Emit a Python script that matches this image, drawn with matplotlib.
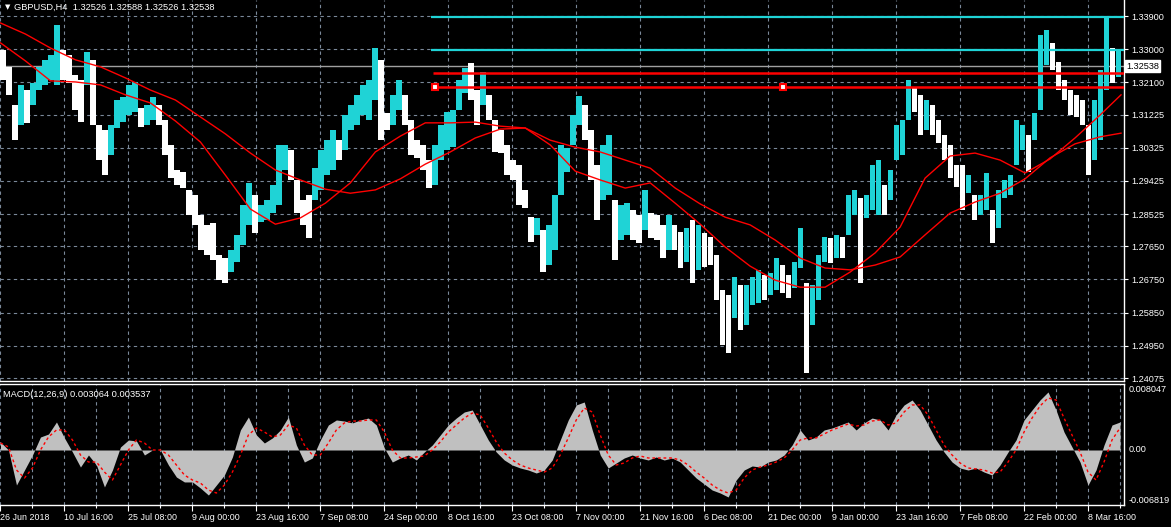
import numpy as np
import matplotlib.pyplot as plt
import matplotlib.transforms as mtransforms

plt.rcParams['font.family'] = ['Liberation Sans', 'DejaVu Sans']

# GBPUSD H4 price range, one entry per 6 bars (high / low)
bar_high = [1.3298, 1.3252, 1.3148, 1.3203, 1.3189, 1.3208, 1.3252, 1.3271, 1.3284, 1.3366,
            1.3298, 1.3284, 1.3230, 1.3216, 1.3292, 1.3271, 1.3094, 1.3081, 1.3094, 1.3162,
            1.3170, 1.3203, 1.3211, 1.3140, 1.3148, 1.3170, 1.3148, 1.3108, 1.3040, 1.2972,
            1.2967, 1.2918, 1.2904, 1.2850, 1.2823, 1.2828, 1.2741, 1.2733, 1.2755, 1.2796,
            1.2877, 1.2936, 1.2904, 1.2877, 1.2891, 1.2931, 1.3040, 1.3040, 1.3026, 1.2945,
            1.2891, 1.2904, 1.2977, 1.3026, 1.3053, 1.3081, 1.3053, 1.3121, 1.3148, 1.3176,
            1.3203, 1.3216, 1.3303, 1.3271, 1.3127, 1.3176, 1.3216, 1.3176, 1.3108, 1.3053,
            1.3040, 1.2999, 1.3040, 1.3094, 1.3129, 1.3135, 1.3216, 1.3249, 1.3262, 1.3189,
            1.3238, 1.3176, 1.3108, 1.3081, 1.3040, 1.2999, 1.2986, 1.2918, 1.2844, 1.2842,
            1.2809, 1.2823, 1.2904, 1.3040, 1.3032, 1.3121, 1.3173, 1.3148, 1.3081, 1.2986,
            1.3040, 1.3067, 1.2891, 1.2877, 1.2882, 1.2863, 1.2850, 1.2918, 1.2855, 1.2850,
            1.2823, 1.2850, 1.2823, 1.2804, 1.2814, 1.2836, 1.2823, 1.2801, 1.2790, 1.2741,
            1.2646, 1.2633, 1.2682, 1.2660, 1.2660, 1.2682, 1.2701, 1.2687, 1.2692, 1.2733,
            1.2714, 1.2687, 1.2722, 1.2814, 1.2665, 1.2660, 1.2741, 1.2790, 1.2787, 1.2796,
            1.2790, 1.2904, 1.2918, 1.2896, 1.2904, 1.2986, 1.2999, 1.2931, 1.2972, 1.3094,
            1.3108, 1.3216, 1.3195, 1.3176, 1.3162, 1.3148, 1.3108, 1.3067, 1.3040, 1.2986,
            1.2986, 1.2958, 1.2904, 1.2904, 1.2964, 1.2863, 1.2918, 1.2945, 1.2958, 1.3108,
            1.3094, 1.3067, 1.3127, 1.3338, 1.3352, 1.3317, 1.3265, 1.3216, 1.3189, 1.3176,
            1.3162, 1.3094, 1.3162, 1.3243, 1.3385, 1.3303, 1.3298]
bar_low = [1.3216, 1.3176, 1.3053, 1.3094, 1.3100, 1.3148, 1.3189, 1.3203, 1.3216, 1.3203,
           1.3216, 1.3208, 1.3135, 1.3102, 1.3203, 1.3094, 1.2999, 1.2958, 1.3013, 1.3086,
           1.3102, 1.3121, 1.3129, 1.3089, 1.3094, 1.3108, 1.3094, 1.3013, 1.2950, 1.2931,
           1.2923, 1.2850, 1.2823, 1.2755, 1.2741, 1.2728, 1.2673, 1.2665, 1.2695, 1.2722,
           1.2768, 1.2823, 1.2801, 1.2831, 1.2836, 1.2855, 1.2877, 1.2972, 1.2945, 1.2855,
           1.2823, 1.2787, 1.2891, 1.2918, 1.2958, 1.2972, 1.2999, 1.3026, 1.3081, 1.3094,
           1.3121, 1.3108, 1.3162, 1.3053, 1.3081, 1.3094, 1.3135, 1.3094, 1.3013, 1.3004,
           1.2972, 1.2923, 1.2931, 1.2999, 1.3026, 1.3034, 1.3135, 1.3181, 1.3162, 1.3094,
           1.3148, 1.3108, 1.3021, 1.3018, 1.2958, 1.2945, 1.2877, 1.2869, 1.2777, 1.2796,
           1.2695, 1.2714, 1.2755, 1.2904, 1.2967, 1.3040, 1.3094, 1.3053, 1.2945, 1.2836,
           1.2891, 1.2904, 1.2728, 1.2782, 1.2796, 1.2782, 1.2774, 1.2809, 1.2787, 1.2782,
           1.2733, 1.2755, 1.2755, 1.2706, 1.2722, 1.2665, 1.2701, 1.2709, 1.2714, 1.2619,
           1.2497, 1.2475, 1.2570, 1.2538, 1.2551, 1.2606, 1.2611, 1.2619, 1.2633, 1.2646,
           1.2638, 1.2624, 1.2652, 1.2706, 1.2421, 1.2551, 1.2619, 1.2722, 1.2719, 1.2733,
           1.2733, 1.2796, 1.2850, 1.2665, 1.2842, 1.2863, 1.2850, 1.2850, 1.2891, 1.2999,
           1.3013, 1.3108, 1.3129, 1.3067, 1.3081, 1.3067, 1.3045, 1.2999, 1.2950, 1.2926,
           1.2863, 1.2909, 1.2836, 1.2850, 1.2863, 1.2774, 1.2814, 1.2896, 1.2904, 1.2986,
           1.3026, 1.2967, 1.3053, 1.3135, 1.3257, 1.3243, 1.3189, 1.3162, 1.3121, 1.3116,
           1.3094, 1.2958, 1.2999, 1.3053, 1.3189, 1.3208, 1.3224]

# moving averages (bar index, value)
ma_idx = [0, 25, 50, 75, 100, 125, 150, 175, 200, 225, 250, 275, 300, 325, 350, 375, 400,
          425, 450, 475, 500, 525, 550, 575, 600, 625, 650, 675, 700, 725, 750, 775, 800,
          825, 850, 875, 900, 925, 950, 975, 1000, 1025, 1050, 1075, 1100, 1121]
ma_slow = [1.3371, 1.3341, 1.3303, 1.3271, 1.3252, 1.3222, 1.3189, 1.3162, 1.3116, 1.3070,
           1.3018, 1.2972, 1.2945, 1.2920, 1.2909, 1.2918, 1.2948, 1.2988, 1.3021, 1.3059,
           1.3083, 1.3086, 1.3053, 1.3034, 1.3021, 1.2999, 1.2977, 1.2923, 1.2880, 1.2844,
           1.2823, 1.2782, 1.2733, 1.2706, 1.2701, 1.2714, 1.2736, 1.2796, 1.2855, 1.2885,
           1.2909, 1.2948, 1.3005, 1.3043, 1.3062, 1.3072]
ma_fast = [1.3317, 1.3268, 1.3214, 1.3211, 1.3203, 1.3176, 1.3154, 1.3105, 1.3048, 1.2958,
           1.2866, 1.2825, 1.2842, 1.2882, 1.2937, 1.3021, 1.3064, 1.3100, 1.3100, 1.3102,
           1.3091, 1.3086, 1.3040, 1.2969, 1.2945, 1.2923, 1.2937, 1.2882, 1.2825, 1.2763,
           1.2711, 1.2673, 1.2654, 1.2654, 1.2695, 1.2747, 1.2817, 1.2950, 1.3010, 1.3018,
           1.2999, 1.2964, 1.3002, 1.3059, 1.3121, 1.3176]

# MACD(12,26,9), one entry per 8 bars, in units of 0.0001
macd_main = [9.9, 0.0, -43.4, -24.8, -6.2, 16.1, 19.8, 34.7, 14.9, -2.5,
             -21.1, -6.2, -18.6, -45.8, -24.8, 3.7, 12.4, 11.2, -6.2, 0.0,
             0.0, -18.6, -33.5, -39.6, -39.6, -47.1, -55.8, -43.4, -31.0, -8.7,
             24.8, 40.9, 18.6, 8.7, 14.9, 24.8, 40.9, 6.2, -14.9, -9.9,
             12.4, 31.0, 37.2, 35.9, 33.5, 37.2, 39.6, 31.0, 2.5, -14.9,
             -9.9, -6.2, -12.4, -2.5, 6.2, 18.6, 31.0, 39.6, 47.1, 49.6,
             31.0, 12.4, -2.5, -12.4, -18.6, -22.3, -24.8, -28.5, -24.8, -12.4,
             12.4, 37.2, 55.8, 59.5, 24.8, -6.2, -22.3, -16.1, -9.9, -6.2,
             -9.9, -12.4, -8.7, -12.4, -9.9, -14.9, -24.8, -34.7, -42.1, -49.6,
             -53.3, -58.2, -37.2, -24.8, -19.8, -21.1, -14.9, -12.4, -6.2, 6.2,
             24.8, 12.4, 16.1, 24.8, 27.3, 31.0, 34.7, 24.8, 33.5, 39.6,
             37.2, 24.8, 43.4, 55.8, 62.0, 49.6, 31.0, 12.4, -2.5, -14.9,
             -22.3, -24.8, -22.3, -27.3, -31.0, -18.6, -2.5, 12.4, 37.2, 49.6,
             62.0, 71.9, 49.6, 22.3, 3.7, -14.9, -43.4, -24.8, 6.2, 31.0, 34.7]
macd_signal = [8.7, 3.7, -24.8, -34.7, -22.3, 0.0, 16.1, 24.8, 24.8, 12.4,
               -6.2, -14.9, -14.9, -27.3, -37.2, -18.6, 0.0, 12.4, 8.7, 0.0,
               0.0, -6.2, -18.6, -31.0, -37.2, -40.9, -49.6, -53.3, -43.4, -27.3,
               -6.2, 18.6, 27.3, 22.3, 16.1, 18.6, 31.0, 27.3, 6.2, -6.2,
               -6.2, 8.7, 24.8, 33.5, 35.9, 35.9, 37.2, 37.2, 22.3, 0.0,
               -9.9, -9.9, -8.7, -7.4, 0.0, 9.9, 22.3, 31.0, 39.6, 45.8,
               43.4, 27.3, 9.9, -3.7, -12.4, -18.6, -22.3, -24.8, -27.3, -22.3,
               -6.2, 14.9, 37.2, 52.0, 47.1, 18.6, -6.2, -18.6, -16.1, -9.9,
               -7.4, -9.9, -9.9, -9.9, -9.9, -12.4, -18.6, -27.3, -34.7, -43.4,
               -49.6, -53.3, -49.6, -34.7, -24.8, -21.1, -18.6, -14.9, -9.9, 0.0,
               12.4, 14.9, 14.9, 19.8, 24.8, 28.5, 32.2, 29.7, 31.0, 35.9,
               37.2, 31.0, 33.5, 47.1, 55.8, 55.8, 43.4, 24.8, 6.2, -6.2,
               -16.1, -22.3, -23.5, -24.8, -28.5, -27.3, -14.9, 0.0, 22.3, 39.6,
               54.5, 64.4, 62.0, 39.6, 18.6, -2.5, -27.3, -37.2, -14.9, 12.4, 27.3]

price_ticks = [1.33900, 1.33000, 1.32100, 1.31225, 1.30325, 1.29425,
               1.28525, 1.27650, 1.26750, 1.25850, 1.24950, 1.24075]
date_labels = ['26 Jun 2018', '10 Jul 16:00', '25 Jul 08:00', '9 Aug 00:00', '23 Aug 16:00',
               '7 Sep 08:00', '24 Sep 00:00', '8 Oct 16:00', '23 Oct 08:00', '7 Nov 00:00',
               '21 Nov 16:00', '6 Dec 08:00', '21 Dec 00:00', '9 Jan 00:00', '23 Jan 16:00',
               '7 Feb 08:00', '22 Feb 00:00', '8 Mar 16:00']
cyan_levels = [1.3388, 1.3299]
red_levels = [1.3234, 1.3196]
last_price = 1.32538
macd_levels = [0.008047, 0.0, -0.006819]

UP = '#1fd3d6'
GRID = '#7a8899'
W, H = 1171, 527

fig = plt.figure(figsize=(W / 100, H / 100), dpi=100, facecolor='black')
ax = fig.add_axes([0, 1 - 381 / H, 1124 / W, 381 / H], facecolor='black')
ax2 = fig.add_axes([0, 1 - 505 / H, 1124 / W, 121 / H], facecolor='black', sharex=ax)

vgrid = np.arange(31.5, 1124, 32)

# price bars
bx = np.arange(len(bar_high)) * 6
hi = np.array(bar_high)
lo = np.array(bar_low)
mid = (hi + lo) / 2
colors = ['white'] + [UP if mid[i] >= mid[i - 1] else 'white' for i in range(1, len(mid))]
ax.bar(bx, hi - lo, bottom=lo, width=5.3, align='edge', color=colors, linewidth=0, zorder=3)

ax.plot(ma_idx, ma_slow, color='red', lw=1, zorder=4)
ax.plot(ma_idx, ma_fast, color='red', lw=1, zorder=4)

for lv in cyan_levels:
    ax.plot([431, 1124], [lv, lv], color=UP, lw=1.6, zorder=5, solid_capstyle='butt')
for lv in red_levels:
    ax.plot([433, 1124], [lv, lv], color='red', lw=1.8, zorder=5, solid_capstyle='butt')
ax.plot([435, 783], [red_levels[1]] * 2, ls='none', marker='s', ms=5, mfc='white',
        mec='red', mew=1.5, zorder=6)
ax.axhline(last_price, color='#a0a0a0', lw=1, zorder=2)

ax.set_ylim(1.339 - 365 / 3684.5, 1.339 + 16 / 3684.5)
ax.set_xlim(0, 1124)
ax.set_yticks(price_ticks)
ax.set_yticklabels(['%.5f' % v for v in price_ticks])
ax.yaxis.tick_right()
ax.set_xticks(vgrid)
ax.tick_params(axis='x', bottom=False, labelbottom=False)
ax.tick_params(axis='y', colors='white', labelsize=6.6, length=3, width=0.8, pad=2)
ax.grid(True, color=GRID, ls=(0, (3, 3)), lw=0.8, zorder=1)
for s in ['top', 'left']:
    ax.spines[s].set_visible(False)
for s in ['right', 'bottom']:
    ax.spines[s].set_color('white')
    ax.spines[s].set_linewidth(1)

tr = mtransforms.blended_transform_factory(ax.transAxes, ax.transData)
ax.text(1.002, last_price, '%.5f' % last_price, transform=tr, va='center', ha='left',
        fontsize=6.6, color='black',
        bbox=dict(boxstyle='square,pad=0.15', fc='white', ec='white'), zorder=10, clip_on=False)

fig.text(5 / W, 1 - 7 / H, '\u25bc', color='white', fontsize=5, va='center', ha='left',
         family=['DejaVu Sans'])
fig.text(14 / W, 1 - 7 / H, 'GBPUSD,H4  1.32526 1.32588 1.32526 1.32538', color='white',
         fontsize=6.7, va='center', ha='left')

# MACD panel
mx = np.arange(len(macd_main)) * 8
mm = np.array(macd_main) * 1e-4
ms = np.array(macd_signal) * 1e-4
ax2.fill_between(mx, 0, mm, color='#c0c0c0', lw=0, zorder=3)
ax2.plot(mx, ms, color='red', lw=1, ls=(0, (2, 2)), zorder=4)
ax2.set_ylim(-55 * 1.239e-4, 66 * 1.239e-4)
ax2.set_yticks([])
ax2.set_xticks(vgrid, minor=True)
ax2.set_xticks(np.arange(-0.5, 1124, 64))
ax2.set_xticklabels(date_labels)
for lab in ax2.get_xticklabels():
    lab.set_horizontalalignment('left')
ax2.tick_params(axis='x', which='major', colors='white', labelsize=6.4, length=4, width=0.8, pad=2)
ax2.tick_params(axis='x', which='minor', colors='white', length=2, width=0.8)
ax2.grid(True, axis='x', which='both', color=GRID, ls=(0, (3, 3)), lw=0.8, zorder=1)
ax2.spines['left'].set_visible(False)
for s in ['right', 'bottom', 'top']:
    ax2.spines[s].set_color('white')
    ax2.spines[s].set_linewidth(1)

tr2 = mtransforms.blended_transform_factory(ax2.transAxes, ax2.transData)
for v, va in zip(macd_levels, ['top', 'center', 'bottom']):
    ax2.text(1.004, v, ('%.6f' % v) if v != 0 else '0.00', transform=tr2,
             va=va, ha='left', fontsize=6.6, color='white', clip_on=False)
ax2.text(3, 0.95, 'MACD(12,26,9) 0.003064 0.003537',
         transform=mtransforms.blended_transform_factory(ax2.transData, ax2.transAxes),
         color='white', fontsize=6.7, va='top', ha='left')

fig.savefig('out.png', dpi=100, facecolor='black')
